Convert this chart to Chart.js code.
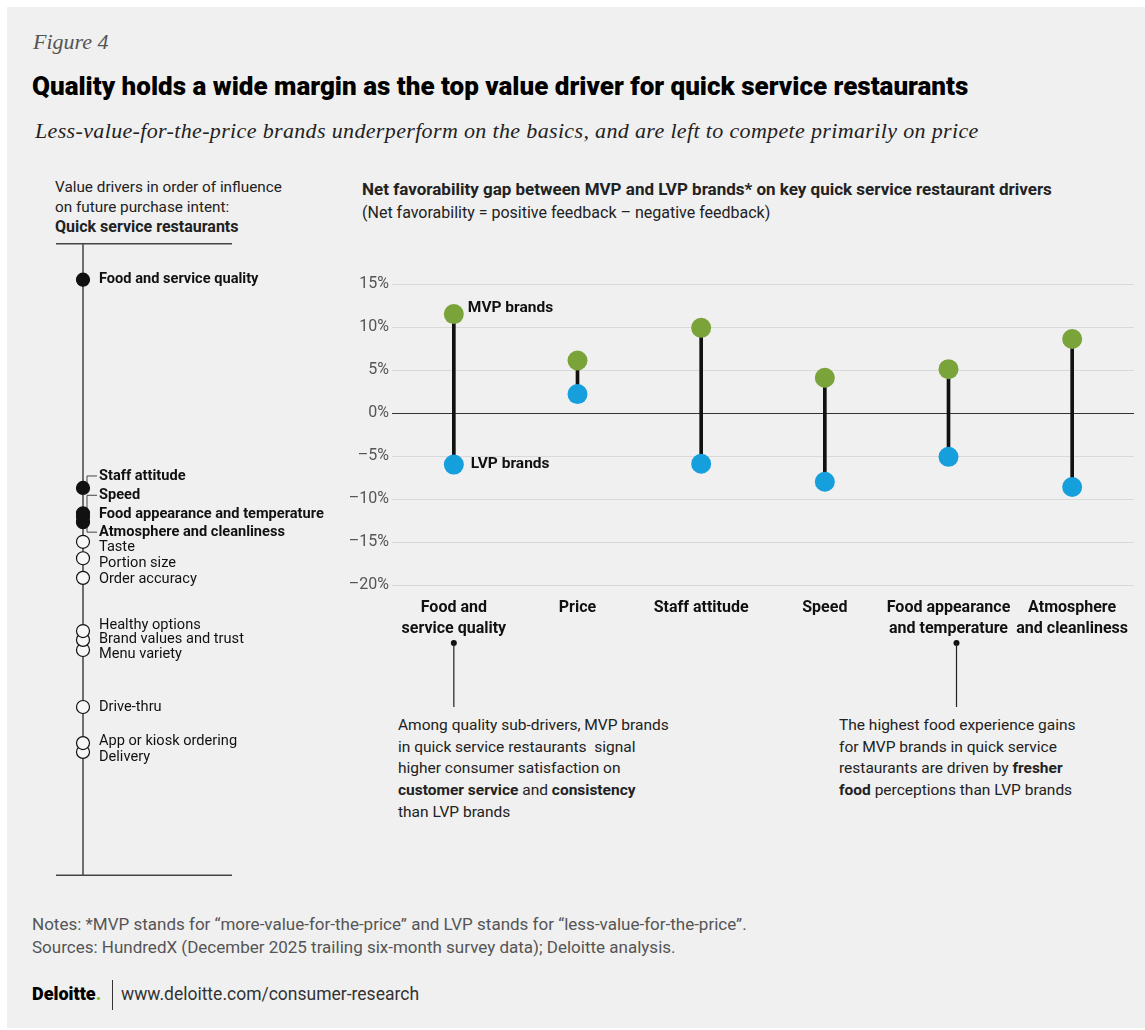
<!DOCTYPE html>
<html>
<head>
<meta charset="utf-8">
<script src="https://cdn.jsdelivr.net/npm/chart.js@4.4.1/dist/chart.umd.min.js"></script>
<style>
  body { margin: 0; background: #fff; font-family: Roboto, sans-serif; }
  #panel { position: absolute; left: 7px; top: 7px; width: 1138px; height: 1021px; background: #f0f0f0; }
  .t { position: absolute; white-space: nowrap; color: #222; }
  #fig { left: 33px; top: 29px; font: italic 22px "Liberation Serif", serif; color: #555; line-height: 26px; }
  #title { left: 32px; top: 70px; font-weight: 900; font-size: 26px; letter-spacing: 0; color: #000; line-height: 32px; }
  #sub { left: 35px; top: 117px; font: italic 22px "Liberation Serif", serif; letter-spacing: 0.35px; color: #222; line-height: 28px; }
  #lhead { left: 55px; top: 178px; font-size: 15.3px; line-height: 19.5px; }
  #lhead b { font-size: 16px; }
  #chead { left: 362px; top: 178px; font-size: 17px; line-height: 23px; }
  .note { font-size: 15.5px; line-height: 21.7px; color: #222; }
  #foot { left: 32px; top: 913px; font-size: 17px; line-height: 23px; color: #555; }
  #logo { left: 32px; top: 982px; font-weight: 900; font-size: 18px; color: #000; line-height: 24px; }
  #sep { position: absolute; left: 112px; top: 980px; width: 1px; height: 30px; background: #333; }
  #url { left: 121px; top: 982px; font-size: 17.5px; color: #333; line-height: 24px; }
  canvas { position: absolute; }
</style>
</head>
<body>
<div id="panel"></div>
<div class="t" id="fig">Figure 4</div>
<div class="t" id="title">Quality holds a wide margin as the top value driver for quick service restaurants</div>
<div class="t" id="sub">Less-value-for-the-price brands underperform on the basics, and are left to compete primarily on price</div>
<div class="t" id="lhead">Value drivers in order of influence<br>on future purchase intent:<br><b>Quick service restaurants</b></div>
<div class="t" id="chead"><b>Net favorability gap between MVP and LVP brands* on key quick service restaurant drivers</b><br><span style="font-size:16px">(Net favorability = positive feedback &ndash; negative feedback)</span></div>
<div class="t note" style="left:398px; top:715px;">Among quality sub-drivers, MVP brands<br>in quick service restaurants&nbsp; signal<br>higher consumer satisfaction on<br><b>customer service</b> and <b>consistency</b><br>than LVP brands</div>
<div class="t note" style="left:839px; top:715px;">The highest food experience gains<br>for MVP brands in quick service<br>restaurants are driven by <b>fresher</b><br><b>food</b> perceptions than LVP brands</div>
<div class="t" id="foot">Notes: *MVP stands for &ldquo;more-value-for-the-price&rdquo; and LVP stands for &ldquo;less-value-for-the-price&rdquo;.<br>Sources: HundredX (December 2025 trailing six-month survey data); Deloitte analysis.</div>
<div class="t" id="logo">Deloitte<span style="color:#86bc25">.</span></div>
<div id="sep"></div>
<div class="t" id="url">www.deloitte.com/consumer-research</div>

<canvas id="drivers" style="left:43px; top:243px; width:300px; height:633px;"></canvas>
<canvas id="gap" style="left:330px; top:265px; width:810px; height:450px;"></canvas>

<script>
const FONT = 'Roboto, sans-serif';

// main chart data
const categories = [['Food and', 'service quality'], 'Price', 'Staff attitude', 'Speed', ['Food appearance', 'and temperature'], ['Atmosphere', 'and cleanliness']];
const mvpValues = [11.5, 6.1, 9.9, 4.1, 5.1, 8.6];
const lvpValues = [-6.0, 2.2, -5.9, -8.0, -5.1, -8.6];
const yTicks = [15, 10, 5, 0, -5, -10, -15, -20];

// left timeline data (higher = more influence)
const driverNames = ['Food and service quality', 'Staff attitude', 'Speed', 'Food appearance and temperature', 'Atmosphere and cleanliness',
  'Taste', 'Portion size', 'Order accuracy', 'Healthy options', 'Brand values and trust', 'Menu variety', 'Drive-thru', 'App or kiosk ordering', 'Delivery'];
const driverInfluence = [94.2, 61.3, 57.3, 56.7, 55.9, 52.8, 50.2, 47.1, 38.7, 37.3, 35.7, 26.7, 21.0, 19.6];
const driverInChart = [true, true, true, true, true, false, false, false, false, false, false, false, false, false];

// label nudges in px so crowded names don't overlap
const labelShift = [0, -12, -18, -3, 10, 6, 5, 1, -6, -1, 4, 0, -2, 5];

const GREEN = '#7aa33a';
const BLUE = '#159fdc';

const gapLabels = {
  id: 'gapLabels',
  afterDatasetsDraw(chart) {
    const ctx = chart.ctx;
    const mvp = chart.getDatasetMeta(1).data[0];
    const lvp = chart.getDatasetMeta(2).data[0];
    ctx.save();
    ctx.fillStyle = '#111';
    ctx.font = 'bold 15.5px ' + FONT;
    ctx.textBaseline = 'middle';
    ctx.fillText('MVP brands', mvp.x + 14, mvp.y - 6);
    ctx.fillText('LVP brands', lvp.x + 17, lvp.y);
    // callout leaders
    const b = chart.chartArea.bottom;
    ctx.strokeStyle = '#222';
    ctx.lineWidth = 1.2;
    [0, 4].forEach(i => {
      const x = chart.scales.x.getPixelForValue(i) + (i === 4 ? 8 : 0);
      ctx.beginPath();
      ctx.arc(x, b + 58, 3, 0, Math.PI * 2);
      ctx.fill();
      ctx.beginPath();
      ctx.moveTo(x, b + 58);
      ctx.lineTo(x, b + 122);
      ctx.stroke();
    });
    ctx.restore();
  }
};

new Chart(document.getElementById('gap'), {
  data: {
    labels: categories,
    datasets: [{
      type: 'bar',
      data: categories.map((c, i) => [lvpValues[i], mvpValues[i]]),
      backgroundColor: '#111',
      barThickness: 3,
      order: 3
    }, {
      type: 'line',
      label: 'MVP brands',
      data: mvpValues,
      showLine: false,
      pointRadius: 10,
      pointBorderWidth: 0,
      pointBackgroundColor: GREEN,
      order: 1
    }, {
      type: 'line',
      label: 'LVP brands',
      data: lvpValues,
      showLine: false,
      pointRadius: 10,
      pointBorderWidth: 0,
      pointBackgroundColor: BLUE,
      order: 2
    }]
  },
  options: {
    responsive: false,
    animation: false,
    events: [],
    layout: { autoPadding: false, padding: { top: 19, right: 6, left: 0, bottom: 0 } },
    plugins: { legend: { display: false }, tooltip: { enabled: false } },
    scales: {
      x: {
        grid: { display: false },
        border: { display: false },
        ticks: { color: '#111', font: { family: FONT, size: 16, weight: 'bold', lineHeight: 1.3 }, padding: 5, maxRotation: 0, autoSkip: false },
        afterFit: s => { s.height = 130; }
      },
      y: {
        min: yTicks[yTicks.length - 1],
        max: yTicks[0],
        afterBuildTicks: s => { s.ticks = yTicks.map(v => ({ value: v })); },
        grid: { color: c => c.tick.value === 0 ? '#333' : '#d9d9d9', lineWidth: 1, drawTicks: false },
        border: { display: false },
        ticks: {
          color: '#555',
          padding: 3,
          font: { family: FONT, size: 16 },
          callback: v => (v < 0 ? '\u2013' + Math.abs(v) : v) + '%'
        },
        afterFit: s => { s.width = 62; }
      }
    }
  },
  plugins: [gapLabels]
});

// left: drivers ranked by influence
const order = driverNames.map((n, i) => i).reverse();

const timeline = {
  id: 'timeline',
  beforeDatasetsDraw(chart) {
    const ctx = chart.ctx;
    const a = chart.chartArea;
    const x = chart.scales.x.getPixelForValue(4);
    ctx.save();
    ctx.strokeStyle = '#444';
    ctx.lineWidth = 1.5;
    ctx.beginPath();
    ctx.moveTo(x, a.top);
    ctx.lineTo(x, a.bottom);
    ctx.moveTo(13, a.top + 0.75);
    ctx.lineTo(189, a.top + 0.75);
    ctx.moveTo(13, a.bottom - 0.75);
    ctx.lineTo(189, a.bottom - 0.75);
    ctx.stroke();
    // elbows for the crowded labels
    ctx.lineWidth = 1;
    driverNames.forEach((n, i) => {
      if (Math.abs(labelShift[i]) < 8) return;
      const y = chart.scales.y.getPixelForValue(driverInfluence[i]);
      ctx.beginPath();
      ctx.moveTo(x + 4, y);
      ctx.lineTo(x + 4, y + labelShift[i]);
      ctx.lineTo(x + 14, y + labelShift[i]);
      ctx.stroke();
    });
    ctx.restore();
  },
  afterDatasetsDraw(chart) {
    const ctx = chart.ctx;
    const x = chart.scales.x.getPixelForValue(4);
    ctx.save();
    ctx.fillStyle = '#111';
    ctx.textBaseline = 'middle';
    driverNames.forEach((n, i) => {
      const y = chart.scales.y.getPixelForValue(driverInfluence[i]);
      ctx.font = (driverInChart[i] ? 'bold ' : '') + '14.6px ' + FONT;
      ctx.fillText(n, x + 16, y + labelShift[i]);
    });
    ctx.restore();
  }
};

new Chart(document.getElementById('drivers'), {
  type: 'scatter',
  data: {
    datasets: [{
      data: order.map(i => ({ x: 4, y: driverInfluence[i] })),
      pointRadius: 6.5,
      pointBorderWidth: 1.2,
      pointBorderColor: '#111',
      pointBackgroundColor: order.map(i => driverInChart[i] ? '#111' : '#f7f7f7'),
      clip: false
    }]
  },
  options: {
    responsive: false,
    animation: false,
    events: [],
    layout: { autoPadding: false, padding: 0 },
    plugins: { legend: { display: false }, tooltip: { enabled: false } },
    scales: {
      x: { display: false, min: 0, max: 30 },
      y: { display: false, min: 0, max: 100 }
    }
  },
  plugins: [timeline]
});
</script>
</body>
</html>
